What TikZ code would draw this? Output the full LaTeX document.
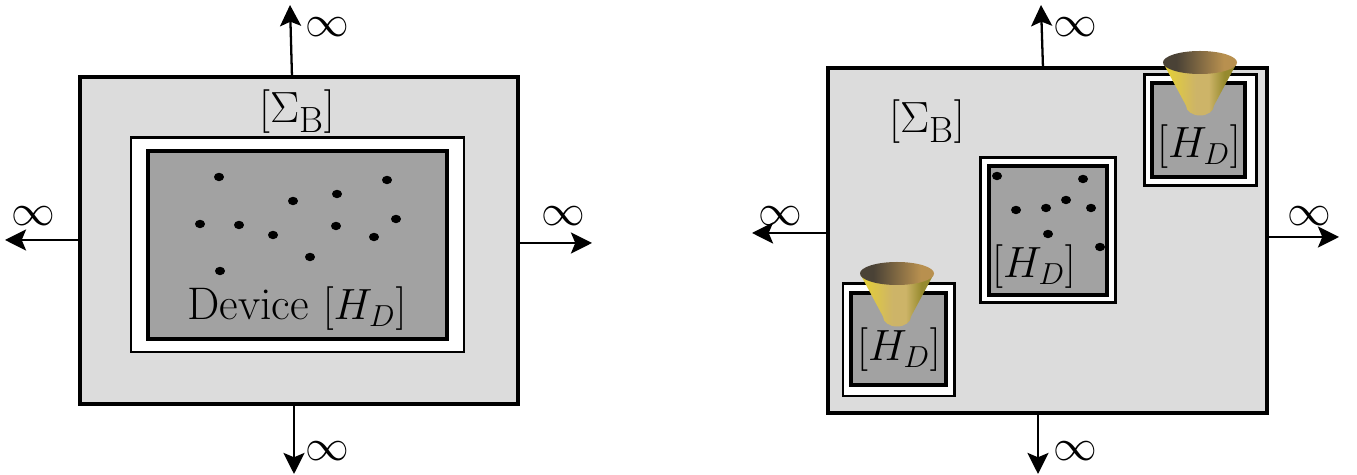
\documentclass[tikz,border=0pt]{standalone}
\usetikzlibrary{arrows.meta}
\definecolor{outerfill}{HTML}{DCDCDC}
\definecolor{innerfill}{HTML}{A2A2A2}
\definecolor{conea}{HTML}{E2CC3C}
\definecolor{coneb}{HTML}{CDB468}
\definecolor{conec}{HTML}{968A2E}
\definecolor{rima}{HTML}{4A4236}
\definecolor{rimb}{HTML}{B8904F}
\pgfdeclarehorizontalshading{conebody}{100bp}{
  color(0bp)=(conea); color(29bp)=(conea); color(47bp)=(coneb); color(56bp)=(coneb); color(67bp)=(conec); color(100bp)=(conec)}
\pgfdeclarehorizontalshading{conerim}{100bp}{
  color(0bp)=(rima); color(34bp)=(rima); color(66bp)=(rimb); color(100bp)=(rimb)}
\tikzset{
  x=0.02cm,y=-0.02cm,
  region/.style={draw=black,line width=2pt,fill=outerfill},
  wall/.style={draw=black,line width=1.7pt,fill=white},
  device/.style={draw=black,line width=1.9pt,fill=innerfill},
  flow/.style={draw=black,line width=1.3pt,-{Stealth[length=12pt,width=12pt,inset=2.5pt]}},
  lab/.style={inner sep=0pt,font=\fontsize{26}{30}\selectfont},
  siglab/.style={inner sep=0pt,font=\fontsize{28}{32}\selectfont},
  inflab/.style={inner sep=0pt,font=\fontsize{24}{28}\selectfont},
  dot/.style={fill=black,draw=none},
  pics/cone/.style={code={
    \shade[shading=conebody]
      (-36,2) -- (-14,43) arc[start angle=180,end angle=0,x radius=14,y radius=10] -- (36,2) -- cycle;
    \shade[shading=conerim] (0,0) ellipse[x radius=37,y radius=11.5];
  }}
}
\newcommand{\rdot}[1]{\fill[dot] #1 ellipse[x radius=5,y radius=4.2];}
\begin{document}
\begin{tikzpicture}
\useasboundingbox (0,0) rectangle (1357,475);
% left panel
\node[region,minimum width=0.02cm*438,minimum height=0.02cm*327,anchor=center,inner sep=0pt] (L) at (299,240.5) {};
\node[wall,minimum width=0.02cm*333,minimum height=0.02cm*214,inner sep=0pt] (Lw) at (297.5,245) {};
\node[device,minimum width=0.02cm*299,minimum height=0.02cm*188,inner sep=0pt] (Ld) at (297.5,245) {};
\foreach \p in {(219,177),(293,201),(337,194),(387,180),(200,224),(239,225),(273,235),(336,226),(374,237),(396,219),(310,257),(220,271)} {\rdot{\p}}
\node[siglab] (Lsig) at (297,112) {$[\Sigma_{\mathrm{B}}]$};
\node[lab] (Ltxt) at (297,309) {Device $[H_D]$};
\coordinate (Lt) at (292,77); \coordinate (Lta) at (290,5);
\coordinate (Ll) at (80,240); \coordinate (Lla) at (5,240);
\coordinate (Lr) at (518,243); \coordinate (Lra) at (592,243);
\coordinate (Lb) at (294,404); \coordinate (Lba) at (294,474);
\draw[flow] (Lt) -- (Lta);
\draw[flow] (Ll) -- (Lla);
\draw[flow] (Lr) -- (Lra);
\draw[flow] (Lb) -- (Lba);
\node[inflab] (Li1) at (327,27) {$\infty$};
\node[inflab] (Li2) at (33,216) {$\infty$};
\node[inflab] (Li3) at (563,216) {$\infty$};
\node[inflab] (Li4) at (327,451) {$\infty$};
% right panel
\node[region,minimum width=0.02cm*439,minimum height=0.02cm*345,inner sep=0pt] (R) at (1047.5,240.5) {};
\node[wall,minimum width=0.02cm*112,minimum height=0.02cm*111,inner sep=0pt] (Raw) at (1200,130.5) {};
\node[device,minimum width=0.02cm*93,minimum height=0.02cm*94,inner sep=0pt] (Rad) at (1198.5,130) {};
\node[wall,minimum width=0.02cm*135,minimum height=0.02cm*145,inner sep=0pt] (Rbw) at (1047.5,230.5) {};
\node[device,minimum width=0.02cm*118,minimum height=0.02cm*129,inner sep=0pt] (Rbd) at (1048,230.5) {};
\node[wall,minimum width=0.02cm*111,minimum height=0.02cm*112,inner sep=0pt] (Rcw) at (898.5,340) {};
\node[device,minimum width=0.02cm*95,minimum height=0.02cm*92,inner sep=0pt] (Rcd) at (898.5,339) {};
\foreach \p in {(997,176),(1083,179),(1016,210),(1046,208),(1066,200),(1091,208),(1048,234),(1100,247)} {\rdot{\p}}
\pic at (1200,62.5) {cone};
\pic at (897,273.5) {cone};
\node[siglab] (Rsig) at (927,122) {$[\Sigma_{\mathrm{B}}]$};
\node[lab] (Rha) at (1199,147) {$[H_D]$};
\node[lab] (Rhb) at (1034,267) {$[H_D]$};
\node[lab] (Rhc) at (899,350) {$[H_D]$};
\coordinate (Rt) at (1043,68); \coordinate (Rta) at (1041,5);
\coordinate (Rl) at (828,233); \coordinate (Rla) at (752,233);
\coordinate (Rr) at (1267,237); \coordinate (Rra) at (1339,237);
\coordinate (Rb) at (1038,413); \coordinate (Rba) at (1038,474);
\draw[flow] (Rt) -- (Rta);
\draw[flow] (Rl) -- (Rla);
\draw[flow] (Rr) -- (Rra);
\draw[flow] (Rb) -- (Rba);
\node[inflab] (Ri1) at (1075,27) {$\infty$};
\node[inflab] (Ri2) at (780,216) {$\infty$};
\node[inflab] (Ri3) at (1309,216) {$\infty$};
\node[inflab] (Ri4) at (1075,451) {$\infty$};
\end{tikzpicture}
\end{document}
